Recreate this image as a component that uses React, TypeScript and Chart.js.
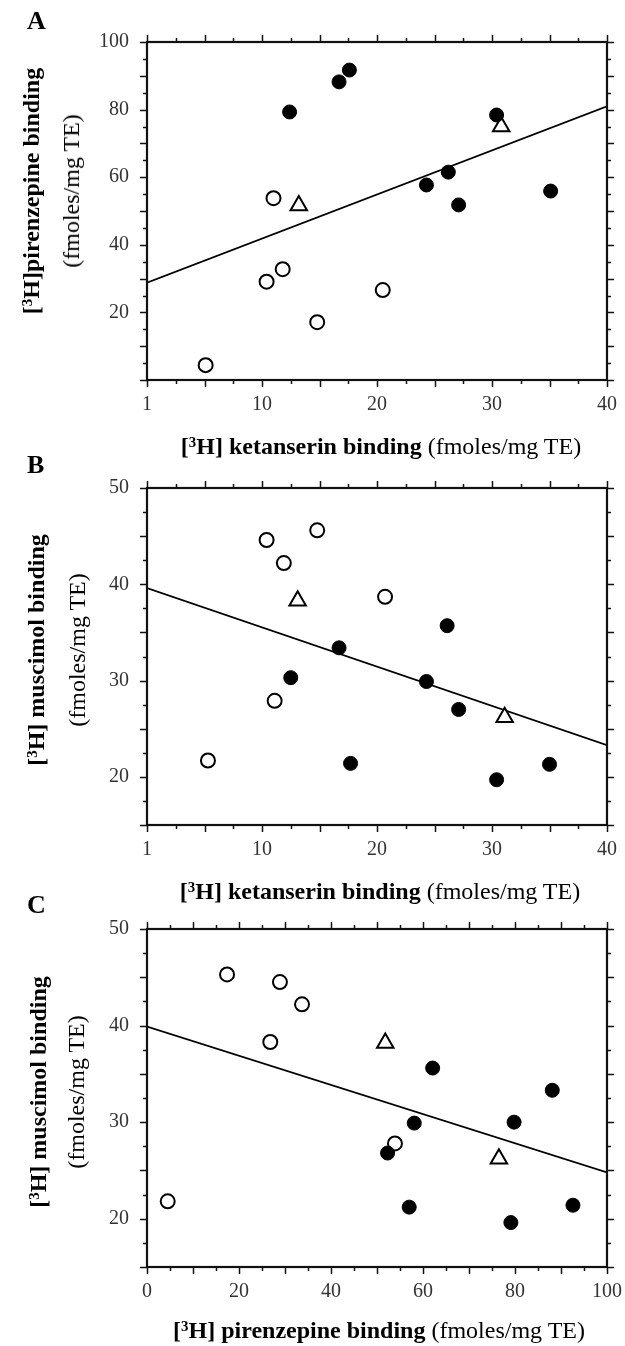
import React, { useEffect, useRef } from 'react';
import { Chart, registerables } from 'chart.js';
Chart.register(...registerables);

const FONT = '"Liberation Serif", "Times New Roman", Times, serif';

// ---------- Panel A: ketanserin (x) vs pirenzepine (y) ----------
const aFilledX = [12.4, 16.7, 17.6, 30.4, 24.3, 26.2, 27.1, 35.1];
const aFilledY = [79.3, 88.2, 91.7, 78.4, 57.7, 61.5, 51.8, 55.9];
const aOpenX = [11.0, 10.4, 11.8, 14.8, 20.5, 5.1];
const aOpenY = [53.8, 29.1, 32.8, 17.1, 26.6, 4.4];
const aTriX = [13.2, 30.8];
const aTriY = [51.6, 75.0];
const aLineX = [0, 40];
const aLineY = [28.8, 81.0];
const aXTicks = [0, 10, 20, 30, 40];
const aXTickLabels = ['1', '10', '20', '30', '40'];
const aYTicks = [0, 20, 40, 60, 80, 100];
const aYTickLabels = ['', '20', '40', '60', '80', '100'];

// ---------- Panel B: ketanserin (x) vs muscimol (y) ----------
const bFilledX = [12.5, 16.7, 17.7, 30.4, 24.3, 26.1, 27.1, 35.0];
const bFilledY = [30.3, 33.4, 21.4, 19.7, 29.9, 35.7, 27.0, 21.3];
const bOpenX = [11.1, 10.4, 11.9, 14.8, 20.7, 5.3];
const bOpenY = [27.9, 44.6, 42.2, 45.6, 38.7, 21.7];
const bTriX = [13.1, 31.1];
const bTriY = [38.3, 26.2];
const bLineX = [0, 40];
const bLineY = [39.6, 23.3];
const bXTicks = [0, 10, 20, 30, 40];
const bXTickLabels = ['1', '10', '20', '30', '40'];
const bYTicks = [20, 30, 40, 50];
const bYTickLabels = ['20', '30', '40', '50'];

// ---------- Panel C: pirenzepine (x) vs muscimol (y) ----------
const cFilledX = [79.8, 88.1, 92.6, 79.1, 58.1, 62.1, 52.3, 57.0];
const cFilledY = [30.0, 33.3, 21.4, 19.6, 29.9, 35.6, 26.8, 21.2];
const cOpenX = [53.9, 28.9, 33.7, 17.4, 26.8, 4.5];
const cOpenY = [27.8, 44.5, 42.2, 45.3, 38.3, 21.8];
const cTriX = [51.8, 76.5];
const cTriY = [38.2, 26.2];
const cLineX = [0, 100];
const cLineY = [39.9, 24.8];
const cXTicks = [0, 20, 40, 60, 80, 100];
const cXTickLabels = ['0', '20', '40', '60', '80', '100'];
const cYTicks = [20, 30, 40, 50];
const cYTickLabels = ['20', '30', '40', '50'];

type Panel = {
  top: number; height: number; frameTop: number; frameBottom: number;
  xMin: number; xMax: number; xMinor: number; xMajor: number;
  yMin: number; yMax: number; yMinor: number; yMajor: number;
  xTicks: number[]; xLabels: string[]; yTicks: number[]; yLabels: string[];
  fx: number[]; fy: number[]; ox: number[]; oy: number[]; tx: number[]; ty: number[];
  lx: number[]; ly: number[];
};

const panels: Panel[] = [
  { top: 0, height: 450, frameTop: 42, frameBottom: 380,
    xMin: 0, xMax: 40, xMinor: 2.5, xMajor: 5, yMin: 0, yMax: 100, yMinor: 5, yMajor: 10,
    xTicks: aXTicks, xLabels: aXTickLabels, yTicks: aYTicks, yLabels: aYTickLabels,
    fx: aFilledX, fy: aFilledY, ox: aOpenX, oy: aOpenY, tx: aTriX, ty: aTriY, lx: aLineX, ly: aLineY },
  { top: 450, height: 450, frameTop: 488, frameBottom: 825,
    xMin: 0, xMax: 40, xMinor: 2.5, xMajor: 5, yMin: 15, yMax: 50, yMinor: 2.5, yMajor: 5,
    xTicks: bXTicks, xLabels: bXTickLabels, yTicks: bYTicks, yLabels: bYTickLabels,
    fx: bFilledX, fy: bFilledY, ox: bOpenX, oy: bOpenY, tx: bTriX, ty: bTriY, lx: bLineX, ly: bLineY },
  { top: 900, height: 446, frameTop: 929, frameBottom: 1267,
    xMin: 0, xMax: 100, xMinor: 5, xMajor: 10, yMin: 15, yMax: 50, yMinor: 2.5, yMajor: 5,
    xTicks: cXTicks, xLabels: cXTickLabels, yTicks: cYTicks, yLabels: cYTickLabels,
    fx: cFilledX, fy: cFilledY, ox: cOpenX, oy: cOpenY, tx: cTriX, ty: cTriY, lx: cLineX, ly: cLineY },
];

const pts = (xs: number[], ys: number[]) => xs.map((x, i) => ({ x, y: ys[i] }));

const isMult = (v: number, m: number) => Math.abs(v / m - Math.round(v / m)) < 1e-6;

const frameTicks = {
  id: 'frameTicks',
  afterDraw(chart: any, _args: any, opts: any) {
    const { ctx, chartArea } = chart;
    const { left, right, top, bottom } = chartArea;
    const xs = chart.scales.x;
    const ys = chart.scales.y;
    ctx.save();
    ctx.strokeStyle = '#111';
    ctx.lineWidth = 1.5;
    ctx.beginPath();
    for (let v = opts.xMin; v <= opts.xMax + 1e-9; v += opts.xMinor) {
      const px = Math.round(xs.getPixelForValue(v)) + 0.5;
      const len = isMult(v, opts.xMajor) ? 7 : 4;
      ctx.moveTo(px, bottom); ctx.lineTo(px, bottom + len);
      ctx.moveTo(px, top); ctx.lineTo(px, top - len);
    }
    for (let v = opts.yMin; v <= opts.yMax + 1e-9; v += opts.yMinor) {
      const py = Math.round(ys.getPixelForValue(v)) + 0.5;
      const len = isMult(v, opts.yMajor) ? 7 : 4;
      ctx.moveTo(left, py); ctx.lineTo(left - len, py);
      ctx.moveTo(right, py); ctx.lineTo(right + len, py);
    }
    ctx.stroke();
    ctx.lineWidth = 2.2;
    ctx.strokeRect(left, top, right - left, bottom - top);
    ctx.restore();
  },
};

function makeChart(canvas: HTMLCanvasElement, p: Panel) {
  const fTop = p.frameTop - p.top;
  const fBottom = p.frameBottom - p.top;
  const xAxisH = 40;
  const yAxisW = 147;
  const noPad = (s: any) => { s.paddingLeft = 0; s.paddingRight = 0; s.paddingTop = 0; s.paddingBottom = 0; };
  return new Chart(canvas, {
    type: 'scatter',
    data: {
      datasets: [
        { type: 'line', data: pts(p.lx, p.ly), borderColor: '#000', borderWidth: 1.8,
          pointRadius: 0, showLine: true, fill: false, order: 10 } as any,
        { data: pts(p.fx, p.fy), pointStyle: 'circle', pointRadius: 7, backgroundColor: '#000',
          borderColor: '#000', borderWidth: 1, order: 0 },
        { data: pts(p.ox, p.oy), pointStyle: 'circle', pointRadius: 7, backgroundColor: '#fff',
          borderColor: '#000', borderWidth: 2, order: 0 },
        { data: pts(p.tx, p.ty), pointStyle: 'triangle', pointRadius: 9.5, backgroundColor: '#fff',
          borderColor: '#000', borderWidth: 2, order: 0 },
      ],
    },
    options: {
      animation: false,
      responsive: false,
      devicePixelRatio: 1,
      layout: { padding: { left: 0, top: fTop, right: 625 - 607, bottom: p.height - fBottom - xAxisH } },
      plugins: {
        legend: { display: false },
        tooltip: { enabled: false },
        frameTicks: { xMin: p.xMin, xMax: p.xMax, xMinor: p.xMinor, xMajor: p.xMajor,
          yMin: p.yMin, yMax: p.yMax, yMinor: p.yMinor, yMajor: p.yMajor },
      } as any,
      scales: {
        x: {
          type: 'linear', min: p.xMin, max: p.xMax,
          grid: { display: false, drawTicks: false },
          border: { display: false },
          afterBuildTicks: (s: any) => { s.ticks = p.xTicks.map((v) => ({ value: v })); },
          afterFit: (s: any) => { s.height = xAxisH; noPad(s); },
          ticks: {
            autoSkip: false, maxRotation: 0, padding: 13, color: '#333',
            font: { family: FONT, size: 20 },
            callback: (_v: any, i: number) => p.xLabels[i],
          },
        },
        y: {
          type: 'linear', min: p.yMin, max: p.yMax,
          grid: { display: false, drawTicks: false },
          border: { display: false },
          afterBuildTicks: (s: any) => { s.ticks = p.yTicks.map((v) => ({ value: v })); },
          afterFit: (s: any) => { s.width = yAxisW; noPad(s); },
          ticks: {
            autoSkip: false, padding: 18, color: '#333',
            font: { family: FONT, size: 20 },
            callback: (_v: any, i: number) => p.yLabels[i],
          },
        },
      },
    } as any,
    plugins: [frameTicks],
  });
}

function ChartCanvas({ p }: { p: Panel }) {
  const ref = useRef<HTMLCanvasElement>(null);
  useEffect(() => {
    if (!ref.current) return;
    const c = makeChart(ref.current, p);
    return () => c.destroy();
  }, [p]);
  return (
    <canvas ref={ref} width={625} height={p.height}
      style={{ position: 'absolute', left: 0, top: p.top, width: 625, height: p.height }} />
  );
}

const Sup = () => (
  <span style={{ fontSize: '0.62em', position: 'relative', top: '-0.5em' }}>3</span>
);

function YTitle({ bold, cxB, cxN, cy }: { bold: string; cxB: number; cxN: number; cy: number }) {
  const base: React.CSSProperties = {
    position: 'absolute', whiteSpace: 'nowrap', fontFamily: FONT, fontSize: 24, color: '#000',
    transform: 'translate(-50%, -50%) rotate(-90deg)', lineHeight: 1,
  };
  return (
    <>
      <div style={{ ...base, left: cxB, top: cy, fontWeight: 'bold' }}>[<Sup />H]{bold}</div>
      <div style={{ ...base, left: cxN, top: cy }}>(fmoles/mg TE)</div>
    </>
  );
}

function XTitle({ bold, cx, cy }: { bold: string; cx: number; cy: number }) {
  return (
    <div style={{ position: 'absolute', left: cx, top: cy, transform: 'translate(-50%, -50%)',
      whiteSpace: 'nowrap', fontFamily: FONT, fontSize: 24, color: '#000', lineHeight: 1 }}>
      <b>[<Sup />H] {bold}</b> (fmoles/mg TE)
    </div>
  );
}

function Letter({ t, cy }: { t: string; cy: number }) {
  return (
    <div style={{ position: 'absolute', left: 27, top: cy, transform: 'translateY(-50%)',
      fontFamily: FONT, fontWeight: 'bold', fontSize: 26, lineHeight: 1 }}>{t}</div>
  );
}

export default function App() {
  return (
    <div style={{ position: 'absolute', left: 0, top: 0, width: 625, height: 1346, background: '#fff', overflow: 'hidden' }}>
      {panels.map((p, i) => <ChartCanvas key={i} p={p} />)}
      <Letter t="A" cy={21} />
      <Letter t="B" cy={465} />
      <Letter t="C" cy={905} />
      <YTitle bold="pirenzepine binding" cxB={31} cxN={71} cy={191} />
      <YTitle bold=" muscimol binding" cxB={36} cxN={77} cy={650} />
      <YTitle bold=" muscimol binding" cxB={38} cxN={76} cy={1092} />
      <XTitle bold="ketanserin binding" cx={381} cy={446} />
      <XTitle bold="ketanserin binding" cx={380} cy={891} />
      <XTitle bold="pirenzepine binding" cx={379} cy={1330} />
    </div>
  );
}
